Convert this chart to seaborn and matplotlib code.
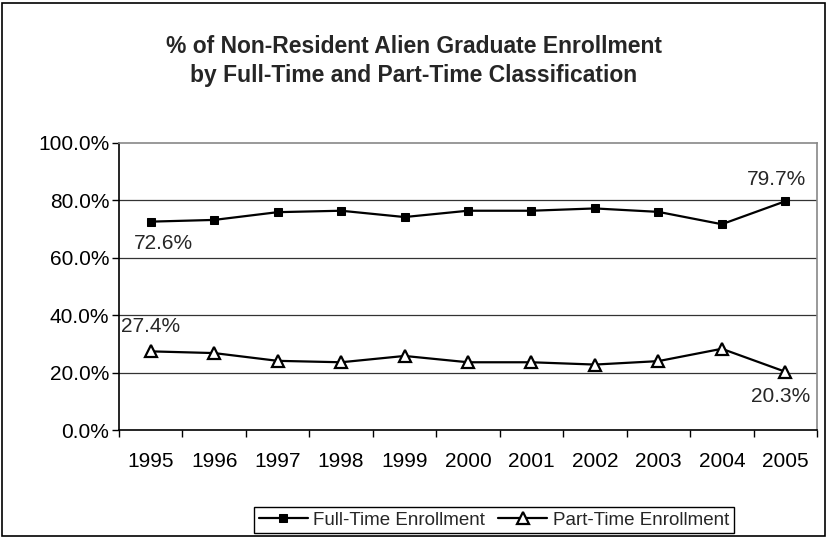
import pandas as pd
import numpy as np
import seaborn as sns
import matplotlib.pyplot as plt
from matplotlib.patches import Rectangle

years = ['1995', '1996', '1997', '1998', '1999', '2000', '2001', '2002', '2003', '2004', '2005']
full_time = [72.6, 73.2, 75.9, 76.4, 74.2, 76.4, 76.4, 77.2, 76.0, 71.7, 79.7]
part_time = [27.4, 26.8, 24.1, 23.6, 25.8, 23.6, 23.6, 22.8, 24.0, 28.3, 20.3]
y_ticks = [0, 20, 40, 60, 80, 100]

sns.set_theme(style='white')
plt.rcParams['font.family'] = ['Liberation Sans', 'DejaVu Sans']

df = pd.DataFrame({'year': years, 'pos': np.arange(len(years)),
                   'Full-Time Enrollment': full_time,
                   'Part-Time Enrollment': part_time})

fs = 15

fig = plt.figure(figsize=(8.28, 5.38), dpi=100)
ax = fig.add_axes([119 / 828, 1 - 430 / 538, 698 / 828, 287 / 538])

sns.lineplot(data=df, x='pos', y='Full-Time Enrollment', ax=ax, color='black', lw=1.6,
             marker='s', markersize=6, markerfacecolor='black', markeredgecolor='black',
             label='Full-Time Enrollment', legend=False)
sns.lineplot(data=df, x='pos', y='Part-Time Enrollment', ax=ax, color='black', lw=1.6,
             marker='^', markersize=8, markerfacecolor='white', markeredgecolor='black',
             markeredgewidth=1.6, label='Part-Time Enrollment', legend=False)

# gridlines
for t in y_ticks[1:-1]:
    ax.axhline(t, color='#333333', lw=0.9, zorder=0)

ax.set_xlim(-0.5, len(years) - 0.5)
ax.set_ylim(0, 100)
ax.set_yticks(y_ticks)
ax.set_yticklabels([f'{t:.1f}%' for t in y_ticks], fontsize=fs)
ax.set_xticks(df['pos'])
ax.set_xticklabels(years, fontsize=fs)
ax.set_xticks(np.arange(len(years) + 1) - 0.5, minor=True)
ax.tick_params(axis='x', which='major', length=0, pad=16, colors='black')
ax.tick_params(axis='x', which='minor', length=5, width=1, color='black', direction='out', bottom=True)
ax.tick_params(axis='y', length=5, width=1, color='black', direction='out', left=True, pad=2, colors='black')
ax.set_xlabel('')
ax.set_ylabel('')

for s in ['left', 'bottom']:
    ax.spines[s].set_color('black')
    ax.spines[s].set_linewidth(1.2)
for s in ['top', 'right']:
    ax.spines[s].set_color('#888888')
    ax.spines[s].set_linewidth(1.2)

# data labels on the first and last points
ax.annotate(f'{full_time[0]:.1f}%', (0, full_time[0]), xytext=(9, -9), textcoords='offset points',
            fontsize=fs, ha='center', va='top')
ax.annotate(f'{full_time[-1]:.1f}%', (10, full_time[-1]), xytext=(-6, 9), textcoords='offset points',
            fontsize=fs, ha='center', va='bottom')
ax.annotate(f'{part_time[0]:.1f}%', (0, part_time[0]), xytext=(0, 11), textcoords='offset points',
            fontsize=fs, ha='center', va='bottom')
ax.annotate(f'{part_time[-1]:.1f}%', (10, part_time[-1]), xytext=(-3, -11), textcoords='offset points',
            fontsize=fs, ha='center', va='top')

fig.suptitle('% of Non-Resident Alien Graduate Enrollment\nby Full-Time and Part-Time Classification',
             x=0.5, y=1 - 35 / 538, fontsize=16.5, fontweight='bold', linespacing=1.32, va='top')

handles, labels = ax.get_legend_handles_labels()
leg = fig.legend(handles, labels, loc='center', bbox_to_anchor=(494 / 828, 1 - 520 / 538), ncol=2,
                 fontsize=13.5, frameon=True, fancybox=False, edgecolor='black', framealpha=1,
                 handlelength=2.6, columnspacing=0.7, borderpad=0.25, handletextpad=0.3,
                 borderaxespad=0)
leg.get_frame().set_linewidth(1.0)

fig.patches.append(Rectangle((2 / 828, 2 / 538), 823 / 828, 533 / 538, transform=fig.transFigure,
                             fill=False, edgecolor='black', lw=1.2))

fig.savefig('out.png', dpi=100)
